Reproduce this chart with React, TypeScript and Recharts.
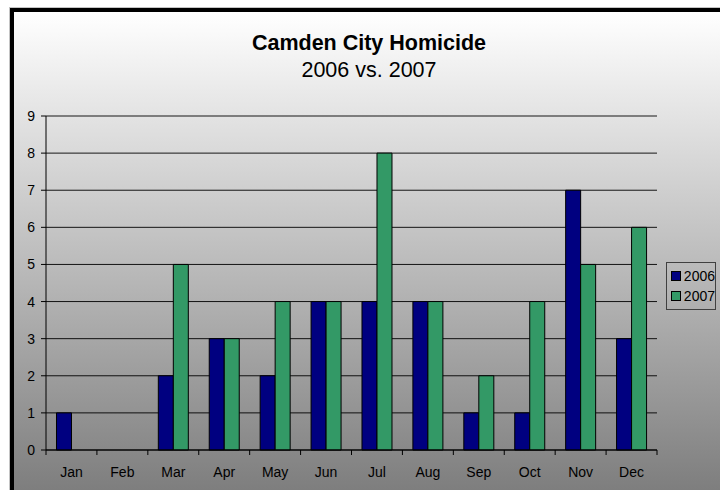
import React from 'react';
import { BarChart, Bar, XAxis, YAxis, CartesianGrid, Legend } from 'recharts';

const months = ['Jan', 'Feb', 'Mar', 'Apr', 'May', 'Jun', 'Jul', 'Aug', 'Sep', 'Oct', 'Nov', 'Dec'];
const homicides2006 = [1, 0, 2, 3, 2, 4, 4, 4, 1, 1, 7, 3];
const homicides2007 = [0, 0, 5, 3, 4, 4, 8, 4, 2, 4, 5, 6];
const yTicks = [0, 1, 2, 3, 4, 5, 6, 7, 8, 9];
const seriesNames = ['2006', '2007'];
const seriesColors = ['#000080', '#339966'];

const chartData = months.map((month, i) => ({
  month,
  y2006: homicides2006[i],
  y2007: homicides2007[i],
}));

const FONT = 'Arial, "Liberation Sans", sans-serif';

// Excel-style category axis: tick marks sit on the band boundaries, not the centers
function MonthTick(props: any) {
  const { x, y, payload, index, visibleTicksCount } = props;
  const half = payload.offset || 0;
  const top = y - 7;
  const isLast = index === visibleTicksCount - 1;
  return (
    <g>
      <line x1={x - half} x2={x - half} y1={top} y2={top + 5} stroke="#000" />
      {isLast && <line x1={x + half} x2={x + half} y1={top} y2={top + 5} stroke="#000" />}
      <text x={x} y={y + 20} textAnchor="middle" fontSize={14} fontFamily={FONT} fill="#000">
        {payload.value}
      </text>
    </g>
  );
}

function LegendBox() {
  return (
    <div
      style={{
        border: '1px solid #404040',
        padding: '3px 0 3px 4px',
        fontFamily: FONT,
        fontSize: 14,
        lineHeight: '20px',
        color: '#000',
        boxSizing: 'border-box',
        width: 50,
      }}
    >
      {seriesNames.map((name, i) => (
        <div key={name} style={{ display: 'flex', alignItems: 'center' }}>
          <span
            style={{
              display: 'inline-block',
              width: 8,
              height: 8,
              background: seriesColors[i],
              border: '1px solid #000',
              marginRight: 3,
            }}
          />
          {name}
        </div>
      ))}
    </div>
  );
}

export default function App() {
  return (
    <div
      style={{
        position: 'absolute',
        left: 0,
        top: 0,
        width: 720,
        height: 490,
        overflow: 'hidden',
        background: '#fff',
      }}
    >
      <div
        style={{
          position: 'absolute',
          left: 10,
          top: 8,
          width: 720,
          height: 490,
          borderLeft: '4px solid #000',
          borderTop: '4px solid #000',
          boxShadow: '-1px -1px 0 #c4c4c4',
          background: 'linear-gradient(#ffffff 0px, #7e7e7e 478px)',
        }}
      />
      <div style={{ position: 'absolute', left: 0, top: 0 }}>
        <BarChart
          width={720}
          height={490}
          data={chartData}
          margin={{ top: 116, right: 63, bottom: 10, left: 10 }}
          barCategoryGap="20.6%"
          barGap={0}
        >
          <CartesianGrid yAxisId="left" vertical={false} stroke="#000" strokeOpacity={0.9} />
          <XAxis
            dataKey="month"
            height={30}
            axisLine={{ stroke: '#000' }}
            tickLine={false}
            tickSize={5}
            tickMargin={2}
            interval={0}
            tick={<MonthTick />}
          />
          <YAxis
            yAxisId="left"
            domain={[0, 9]}
            ticks={yTicks}
            width={36}
            axisLine={{ stroke: '#000' }}
            tickLine={{ stroke: '#000' }}
            tickSize={5}
            tickMargin={6}
            tick={{ fontSize: 14, fontFamily: FONT, fill: '#000' }}
          />
          <YAxis
            yAxisId="right"
            orientation="right"
            domain={[0, 9]}
            width={0}
            tick={false}
            tickLine={false}
            axisLine={{ stroke: '#808080' }}
          />
          <Legend
            layout="vertical"
            align="center"
            verticalAlign="middle"
            wrapperStyle={{ left: 666, top: 262, width: 50 }}
            content={<LegendBox />}
          />
          <Bar
            yAxisId="left"
            dataKey="y2006"
            name={seriesNames[0]}
            fill={seriesColors[0]}
            stroke="#000"
            strokeWidth={1}
            isAnimationActive={false}
          />
          <Bar
            yAxisId="left"
            dataKey="y2007"
            name={seriesNames[1]}
            fill={seriesColors[1]}
            stroke="#000"
            strokeWidth={1}
            isAnimationActive={false}
          />
        </BarChart>
      </div>
      <svg
        width={720}
        height={490}
        style={{ position: 'absolute', left: 0, top: 0, pointerEvents: 'none' }}
      >
        <text x={369} y={50} textAnchor="middle" fontFamily={FONT} fontSize={21.5} fontWeight="bold" fill="#000">
          Camden City Homicide
        </text>
        <text x={369} y={77} textAnchor="middle" fontFamily={FONT} fontSize={21.5} fill="#000">
          2006 vs. 2007
        </text>
      </svg>
    </div>
  );
}
